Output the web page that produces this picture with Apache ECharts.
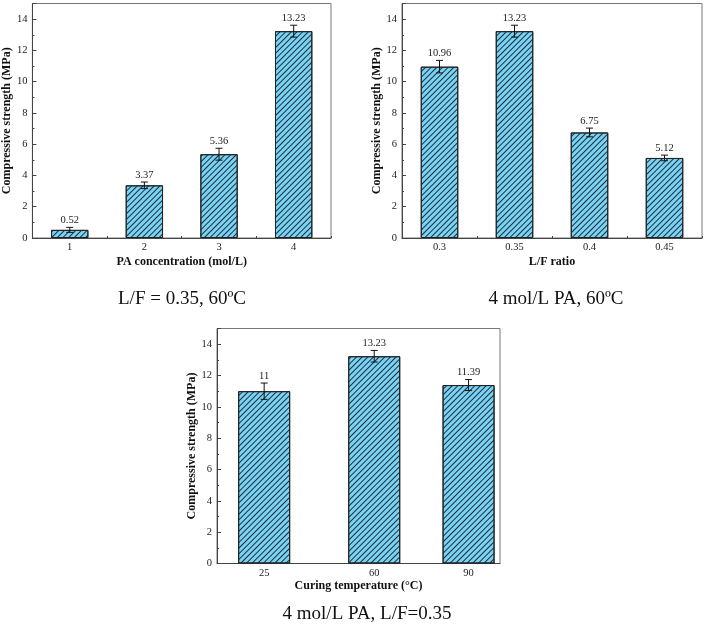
<!DOCTYPE html>
<html>
<head>
<meta charset="utf-8">
<script src="https://cdn.jsdelivr.net/npm/echarts@6/dist/echarts.min.js"></script>
<style>
html,body{margin:0;padding:0;background:#fff;}
#c{width:704px;height:637px;}
</style>
</head>
<body>
<div id="c"></div>
<script>
// ---- data ----
const paCats = ['1', '2', '3', '4'];
const paVals = [0.52, 3.37, 5.36, 13.23];
const paErr = [0.16, 0.21, 0.38, 0.38];

const lfCats = ['0.3', '0.35', '0.4', '0.45'];
const lfVals = [10.96, 13.23, 6.75, 5.12];
const lfErr = [0.40, 0.38, 0.28, 0.18];

const tempX = [25, 60, 90];
const tempVals = [11, 13.23, 11.39];
const tempErr = [0.52, 0.37, 0.35];

const yTitle = 'Compressive strength (MPa)';
const xTitles = ['PA concentration (mol/L)', 'L/F ratio', 'Curing temperature (\u00B0C)'];
const captions = ['L/F = 0.35, 60\u00BAC', '4 mol/L PA, 60\u00BAC', '4 mol/L PA, L/F=0.35'];

// ---- styles ----
const FONT = '"Liberation Serif", "Times New Roman", serif';
const AX = '#444';
const hatch = {
  color: '#1d2c38',
  symbol: 'rect',
  symbolSize: 1,
  dashArrayX: [1, 0],
  dashArrayY: [1, 3],
  rotation: -Math.PI / 4
};
const barItem = { color: '#78d3f4', borderColor: '#222', borderWidth: 1, decal: hatch };

function yAxisOpt(grid, gap) {
  return {
    type: 'value', gridIndex: grid, min: 0, max: 15, interval: 2,
    name: yTitle, nameLocation: 'middle', nameGap: gap, nameRotate: 90,
    nameTextStyle: { fontFamily: FONT, fontWeight: 'bold', fontSize: 12, color: '#111' },
    axisLine: { show: true, lineStyle: { color: AX, width: 1 } },
    axisTick: { show: true, inside: true, length: 4, lineStyle: { color: AX } },
    minorTick: { show: true, splitNumber: 2, length: 2, lineStyle: { color: AX } },
    axisLabel: { fontFamily: FONT, fontSize: 10.5, color: '#222', margin: 5, showMaxLabel: false },
    splitLine: { show: false }
  };
}
function catAxisMain(grid, cats, title) {
  return {
    type: 'category', gridIndex: grid, data: cats,
    name: title, nameLocation: 'middle', nameGap: 18,
    nameTextStyle: { fontFamily: FONT, fontWeight: 'bold', fontSize: 12, color: '#111' },
    axisLine: { show: true, lineStyle: { color: AX, width: 1 } },
    axisTick: { show: true, inside: true, length: 2, lineStyle: { color: AX } },
    axisLabel: { fontFamily: FONT, fontSize: 10.5, color: '#222', margin: 4 },
    splitLine: { show: false }
  };
}
function catAxisCenter(grid, cats) {
  return {
    type: 'category', gridIndex: grid, data: cats, position: 'bottom',
    axisLine: { show: false },
    axisTick: { show: true, inside: true, alignWithLabel: true, length: 3, lineStyle: { color: AX } },
    axisLabel: { show: false }, splitLine: { show: false }
  };
}

function errRender(labels) {
  return function (params, api) {
    const x = api.value(0), v = api.value(1), e = api.value(2);
    const top = api.coord([x, v + e]);
    const bot = api.coord([x, v - e]);
    const cap = 3.5;
    const st = { stroke: '#111', lineWidth: 1 };
    return {
      type: 'group',
      children: [
        { type: 'line', shape: { x1: top[0], y1: top[1], x2: bot[0], y2: bot[1] }, style: st },
        { type: 'line', shape: { x1: top[0] - cap, y1: top[1], x2: top[0] + cap, y2: top[1] }, style: st },
        { type: 'line', shape: { x1: bot[0] - cap, y1: bot[1], x2: bot[0] + cap, y2: bot[1] }, style: st },
        { type: 'text', style: { text: labels[params.dataIndex], x: top[0], y: top[1] - 1.5,
          align: 'center', verticalAlign: 'bottom', font: '10.5px ' + FONT, fill: '#222' } }
      ]
    };
  };
}

const chart = echarts.init(document.getElementById('c'), null, { renderer: 'canvas' });
const option = {
  backgroundColor: '#fff',
  animation: false,
  grid: [
    { left: 31, top: 3.5, width: 300, height: 234.5, show: true, borderColor: '#777', borderWidth: 1, containLabel: false },
    { left: 402, top: 3.5, width: 300, height: 234.5, show: true, borderColor: '#777', borderWidth: 1, containLabel: false },
    { left: 217, top: 328.5, width: 283, height: 235, show: true, borderColor: '#777', borderWidth: 1, containLabel: false }
  ],
  xAxis: [
    catAxisMain(0, paCats, xTitles[0]),
    catAxisMain(1, lfCats, xTitles[1]),
    {
      type: 'value', gridIndex: 2, min: 10, max: 100,
      name: xTitles[2], nameLocation: 'middle', nameGap: 16,
      nameTextStyle: { fontFamily: FONT, fontWeight: 'bold', fontSize: 12, color: '#111' },
      axisLine: { show: true, lineStyle: { color: AX, width: 1 } },
      axisTick: { show: true, inside: true, length: 3, customValues: tempX, lineStyle: { color: AX } },
      axisLabel: { fontFamily: FONT, fontSize: 10.5, color: '#222', margin: 4, customValues: tempX },
      splitLine: { show: false }
    },
    catAxisCenter(0, paCats),
    catAxisCenter(1, lfCats)
  ],
  yAxis: [yAxisOpt(0, 18), yAxisOpt(1, 18), yAxisOpt(2, 17)],
  series: [
    { type: 'bar', xAxisIndex: 0, yAxisIndex: 0, data: paVals, barCategoryGap: '50%', itemStyle: barItem },
    { type: 'bar', xAxisIndex: 1, yAxisIndex: 1, data: lfVals, barCategoryGap: '50%', itemStyle: barItem },
    { type: 'bar', xAxisIndex: 2, yAxisIndex: 2, data: tempX.map((x, i) => [x, tempVals[i]]), barWidth: 52, itemStyle: barItem },
    { type: 'custom', xAxisIndex: 0, yAxisIndex: 0, renderItem: errRender(paVals.map(String)),
      data: paVals.map((v, i) => [i, v, paErr[i]]), z: 5 },
    { type: 'custom', xAxisIndex: 1, yAxisIndex: 1, renderItem: errRender(lfVals.map(String)),
      data: lfVals.map((v, i) => [i, v, lfErr[i]]), z: 5 },
    { type: 'custom', xAxisIndex: 2, yAxisIndex: 2, renderItem: errRender(tempVals.map(String)),
      data: tempVals.map((v, i) => [tempX[i], v, tempErr[i]]), z: 5 }
  ],
  graphic: [
    { type: 'text', x: 182, y: 299, style: { text: captions[0], font: '19px ' + FONT, fill: '#111', align: 'center', verticalAlign: 'middle' } },
    { type: 'text', x: 556, y: 299, style: { text: captions[1], font: '19px ' + FONT, fill: '#111', align: 'center', verticalAlign: 'middle' } },
    { type: 'text', x: 367, y: 614, style: { text: captions[2], font: '19px ' + FONT, fill: '#111', align: 'center', verticalAlign: 'middle' } }
  ]
};
chart.setOption(option);
</script>
</body>
</html>
